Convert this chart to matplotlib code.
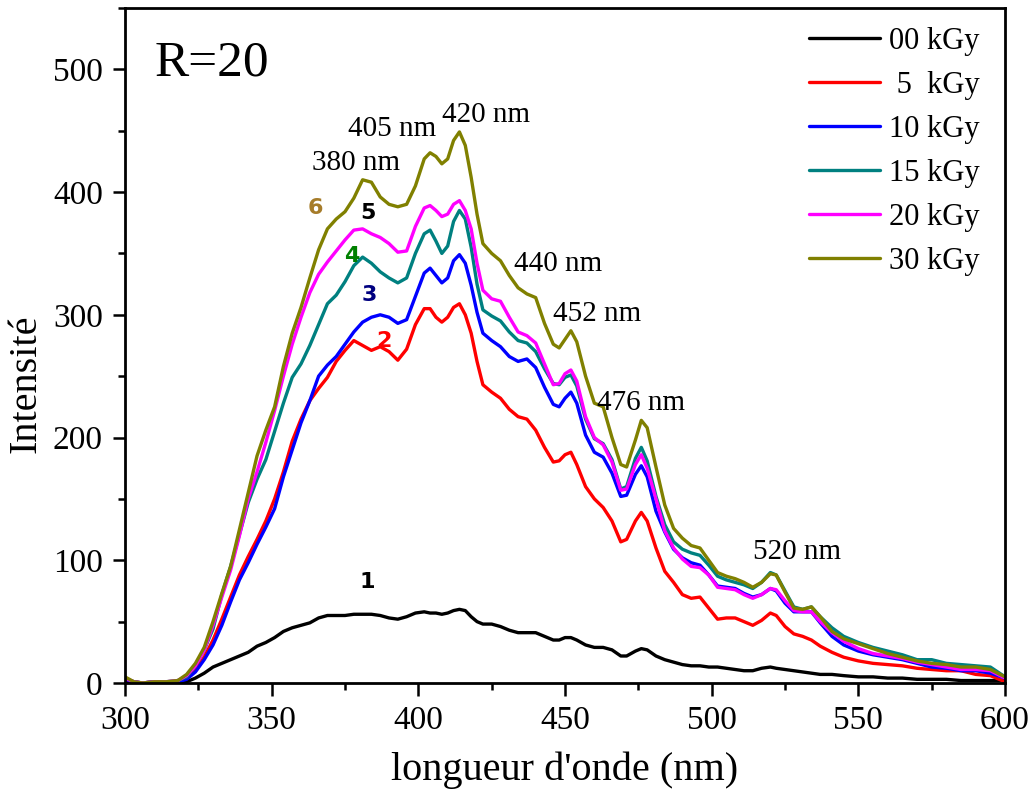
import matplotlib
matplotlib.use("Agg")
import matplotlib.pyplot as plt
from matplotlib.ticker import MultipleLocator

plt.rcParams['font.family'] = ['Liberation Serif', 'DejaVu Serif']

# Wavelength grid (nm)
wavelength = [300, 303, 306, 310, 314, 318, 321, 324, 327, 330, 333, 336, 339, 342, 345, 348,
              351, 354, 357, 360, 363, 366, 369, 372, 375, 378, 381, 384, 387, 390, 393, 396,
              399, 402, 404, 406, 408, 410, 412, 414, 416, 418, 420, 422, 425, 428, 431, 434,
              437, 440, 443, 446, 448, 450, 452, 454, 457, 460, 463, 466, 469, 471, 474, 476,
              478, 481, 484, 487, 490, 493, 496, 499, 502, 505, 508, 511, 514, 517, 520, 522,
              525, 528, 531, 534, 537, 541, 545, 550, 555, 560, 565, 570, 575, 580, 585, 590,
              595, 600]

i_00kGy = [0, 0, 0, 0, 0, 0, 1, 4, 8, 13, 16, 19, 22, 25, 30, 33,
           37, 42, 45, 47, 49, 53, 55, 55, 55, 56, 56, 56, 55, 53, 52, 54,
           57, 58, 57, 57, 56, 57, 59, 60, 59, 54, 50, 48, 48, 46, 43, 41,
           41, 41, 38, 35, 35, 37, 37, 35, 31, 29, 29, 27, 22, 22, 26, 28,
           27, 22, 19, 17, 15, 14, 14, 13, 13, 12, 11, 10, 10, 12, 13, 12,
           11, 10, 9, 8, 7, 7, 6, 5, 5, 4, 4, 3, 3, 3, 2, 2,
           2, 2]

i_05kGy = [3, 1, 0, 1, 1, 1, 4, 10, 21, 35, 52, 70, 88, 103, 117, 132,
           150, 172, 197, 215, 230, 240, 249, 262, 271, 279, 275, 271, 274, 270, 263, 272,
           292, 305, 305, 298, 294, 298, 306, 309, 300, 285, 262, 243, 237, 232, 223, 217,
           215, 206, 192, 180, 181, 186, 188, 178, 160, 150, 143, 132, 115, 117, 132, 139,
           132, 110, 91, 82, 72, 69, 70, 61, 52, 53, 53, 50, 47, 51, 57, 55,
           46, 40, 38, 35, 30, 25, 21, 18, 16, 15, 14, 12, 11, 10, 10, 7,
           6, 1]

i_10kGy = [3, 1, 0, 1, 1, 1, 3, 9, 19, 31, 47, 66, 84, 98, 113, 127,
           142, 168, 190, 212, 230, 250, 259, 266, 276, 286, 294, 298, 300, 298, 293, 296,
           315, 334, 338, 332, 326, 330, 344, 349, 342, 324, 302, 285, 279, 274, 266, 262,
           264, 257, 241, 227, 225, 232, 237, 228, 202, 188, 184, 171, 152, 153, 170, 177,
           168, 140, 123, 109, 102, 98, 96, 88, 79, 78, 77, 73, 70, 72, 77, 75,
           65, 58, 58, 58, 49, 38, 31, 26, 23, 21, 19, 16, 13, 12, 10, 10,
           8, 4]

i_15kGy = [4, 1, 0, 1, 1, 2, 5, 14, 27, 44, 72, 95, 121, 147, 166, 182,
           205, 228, 249, 260, 275, 292, 309, 316, 327, 340, 347, 342, 335, 330, 326, 330,
           350, 366, 369, 360, 350, 356, 376, 385, 378, 355, 325, 304, 299, 295, 286, 279,
           277, 270, 256, 244, 243, 249, 251, 242, 215, 199, 195, 182, 158, 160, 183, 192,
           181, 152, 129, 115, 109, 106, 104, 96, 87, 84, 82, 80, 77, 82, 90, 88,
           75, 62, 60, 62, 54, 45, 38, 33, 29, 26, 23, 19, 19, 16, 15, 14,
           13, 5]

i_20kGy = [4, 1, 0, 1, 1, 2, 6, 14, 27, 47, 70, 92, 120, 150, 172, 196,
           222, 250, 276, 298, 318, 333, 343, 352, 361, 369, 370, 366, 363, 358, 351, 352,
           372, 387, 389, 385, 380, 382, 390, 393, 385, 370, 342, 320, 313, 311, 298, 286,
           283, 277, 260, 243, 244, 252, 255, 246, 217, 200, 194, 180, 157, 158, 178, 186,
           175, 150, 124, 110, 101, 95, 94, 88, 78, 77, 76, 72, 69, 72, 77, 76,
           67, 59, 58, 58, 50, 41, 34, 28, 24, 22, 20, 17, 15, 13, 11, 11,
           10, 4]

i_30kGy = [5, 1, 0, 1, 1, 2, 7, 16, 29, 50, 73, 95, 125, 155, 185, 206,
           225, 258, 285, 306, 330, 353, 370, 378, 384, 395, 410, 408, 396, 390, 388, 390,
           405, 427, 432, 429, 423, 427, 442, 449, 438, 412, 382, 358, 350, 344, 332, 322,
           317, 314, 293, 276, 273, 280, 287, 278, 250, 228, 225, 200, 178, 176, 198, 214,
           208, 176, 145, 126, 118, 112, 110, 100, 90, 87, 85, 82, 78, 82, 89, 88,
           74, 61, 60, 62, 54, 42, 36, 32, 28, 24, 21, 18, 16, 15, 13, 13,
           11, 5]

series_labels = ['00 kGy', ' 5  kGy', '10 kGy', '15 kGy', '20 kGy', '30 kGy']
series_colors = ['#000000', '#FF0000', '#0000FF', '#008080', '#FF00FF', '#808000']
series_values = [i_00kGy, i_05kGy, i_10kGy, i_15kGy, i_20kGy, i_30kGy]

# Emission band annotations: (text, x, y)
band_labels = [('380 nm', 378.8, 424), ('405 nm', 391, 451), ('420 nm', 423, 463),
               ('440 nm', 447.5, 341), ('452 nm', 461, 301), ('476 nm', 476, 228),
               ('520 nm', 529, 107)]

# Curve numbers: (text, x, y, colour)
curve_numbers = [('1', 382.5, 82, '#000000'), ('2', 388.3, 279, '#FF0000'),
                 ('3', 383.2, 316, '#000080'), ('4', 377.4, 348, '#008000'),
                 ('5', 382.8, 383, '#000000'), ('6', 364.8, 387, '#A67C2A')]

fig = plt.figure(figsize=(10.34, 7.94), dpi=100)
ax = fig.add_axes([0.1209, 0.1398, 0.9720 - 0.1209, 0.9900 - 0.1398])

for vals, col, lab in zip(series_values, series_colors, series_labels):
    ax.plot(wavelength, vals, color=col, lw=2.4, label=lab,
            solid_joinstyle='round', solid_capstyle='round')

ax.set_xlim(300, 600)
ax.set_ylim(0, 550)
ax.xaxis.set_major_locator(MultipleLocator(50))
ax.xaxis.set_minor_locator(MultipleLocator(25))
ax.yaxis.set_major_locator(MultipleLocator(100))
ax.yaxis.set_minor_locator(MultipleLocator(50))
ax.tick_params(which='major', direction='out', length=9, width=1.8, labelsize=24, pad=7)
ax.tick_params(which='minor', direction='out', length=5, width=1.8)
for sp in ax.spines.values():
    sp.set_linewidth(2.0)

ax.set_xlabel("longueur d'onde (nm)", fontsize=29, va='center', ha='center')
ax.set_ylabel('Intensité', fontsize=29, va='center', ha='center')
ax.xaxis.set_label_coords(0.5, -0.129)
ax.yaxis.set_label_coords(-0.113, 0.444)

ax.text(310, 505, 'R=20', fontsize=37, ha='left', va='center')

for txt, x, y in band_labels:
    ax.text(x, y, txt, fontsize=21, ha='center', va='center')

for txt, x, y, col in curve_numbers:
    ax.text(x, y, txt, fontsize=16, fontweight='bold', color=col, ha='center', va='center',
            family='DejaVu Sans')

ax.legend(loc='upper right', bbox_to_anchor=(0.985, 0.99), borderaxespad=0.0,
          frameon=False, fontsize=22, handlelength=2.3, handletextpad=0.3,
          labelspacing=0.49)

fig.savefig('out.png', dpi=100)
